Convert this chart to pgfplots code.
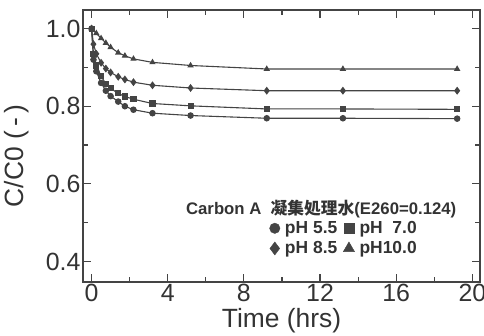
\documentclass[border=0pt]{standalone}
\usepackage{pgfplots}
\pgfplotsset{compat=1.18}
\usepackage{fontspec}
\setmainfont{Liberation Sans}
\newfontfamily\cjk{Noto Sans CJK JP}
\definecolor{dk}{HTML}{444444}
\definecolor{tx}{HTML}{333333}
\begin{document}
\begin{tikzpicture}
\begin{axis}[
  at={(0,0)}, anchor=south west,
  scale only axis, width=397bp, height=272bp,
  xmin=-0.45, xmax=20.4, ymin=0.347, ymax=1.048,
  xtick={0,4,8,12,16,20}, minor xtick={2,6,10,14,18},
  ytick={0.4,0.6,0.8,1.0}, minor ytick={0.5,0.7,0.9},
  yticklabel style={/pgf/number format/fixed, /pgf/number format/fixed zerofill, /pgf/number format/precision=1},
  /pgf/number format/assume math mode=true,
  tick align=inside,
  major tick length=8bp, minor tick length=5bp,
  every tick/.style={dk, line width=1.2bp},
  axis line style={dk, line width=1.5bp},
  ticklabel style={font=\fontsize{25}{28}\selectfont, text=tx},
  xticklabel style={yshift=1bp},
  yticklabel style={xshift=1bp},
  xlabel={Time (hrs)}, ylabel={C/C0 (\,-\,)},
  every axis x label/.style={at={(rel axis cs:0.5,0)}, anchor=center, yshift=-39bp, font=\fontsize{26.5}{28}\selectfont, text=tx},
  every axis y label/.style={at={(rel axis cs:0,0.5)}, rotate=90, anchor=center, yshift=66bp, xshift=-10bp, font=\fontsize{26.5}{28}\selectfont, text=tx},
  legend columns=2,
  legend style={at={(rel axis cs:0.462,0.238)}, anchor=north west, draw=none, fill=none,
    font=\bfseries\fontsize{17.5}{19}\selectfont, text=tx, row sep=2.5bp,
    /tikz/every odd column/.append style={column sep=3bp},
    /tikz/every even column/.append style={column sep=4bp}},
  legend cell align=left,
  clip=false,
]
\addplot[dk, line width=1.1bp, mark=*, mark size=2.7bp, mark options={fill=dk}, forget plot] coordinates {
(0,1.0)(0.1,0.92)(0.25,0.89)(0.5,0.86)(0.75,0.84)(1.0,0.826)(1.4,0.812)(1.75,0.80)(2.2,0.791)(3.2,0.782)(5.2,0.776)(9.2,0.769)(13.2,0.769)(19.2,0.768)};
\addplot[dk, line width=1.1bp, mark=square*, mark size=2.5bp, mark options={fill=dk}, forget plot] coordinates {
(0,1.0)(0.1,0.935)(0.25,0.905)(0.5,0.877)(0.75,0.858)(1.0,0.846)(1.4,0.833)(1.75,0.825)(2.2,0.818)(3.2,0.807)(5.2,0.801)(9.2,0.793)(13.2,0.793)(19.2,0.792)};
\addplot[dk, line width=1.1bp, mark=diamond*, mark size=3.1bp, mark options={fill=dk}, forget plot] coordinates {
(0,1.0)(0.1,0.96)(0.25,0.935)(0.5,0.912)(0.75,0.897)(1.0,0.887)(1.4,0.876)(1.75,0.869)(2.2,0.862)(3.2,0.854)(5.2,0.847)(9.2,0.840)(13.2,0.840)(19.2,0.840)};
\addplot[dk, line width=1.1bp, mark=triangle*, mark size=2.6bp, mark options={fill=dk}, forget plot] coordinates {
(0,1.0)(0.25,0.988)(0.5,0.975)(0.75,0.963)(1.0,0.952)(1.4,0.938)(1.75,0.93)(2.2,0.922)(3.2,0.913)(5.2,0.905)(9.2,0.896)(13.2,0.896)(19.2,0.896)};
\addlegendimage{only marks, mark=*, mark size=5.2bp, dk, mark options={fill=dk}}
\addlegendentry{pH 5.5}
\addlegendimage{only marks, mark=square*, mark size=5bp, dk, mark options={fill=dk}}
\addlegendentry{pH\hphantom{1}7.0}
\addlegendimage{only marks, mark=diamond*, mark size=6.5bp, dk, mark options={fill=dk}}
\addlegendentry{pH 8.5}
\addlegendimage{only marks, mark=triangle*, mark size=6.5bp, dk, mark options={fill=dk}}
\addlegendentry{pH10.0}
\node[anchor=center, text=tx, font=\bfseries\fontsize{16.8}{18}\selectfont] at (rel axis cs:0.60,0.268) {Carbon A\ \ {\cjk\bfseries 凝集処理水}(E260=0.124)};
\end{axis}
\pgfresetboundingbox
\path[use as bounding box] (-83bp,-54bp) rectangle (401bp,282bp);
\end{tikzpicture}
\end{document}
